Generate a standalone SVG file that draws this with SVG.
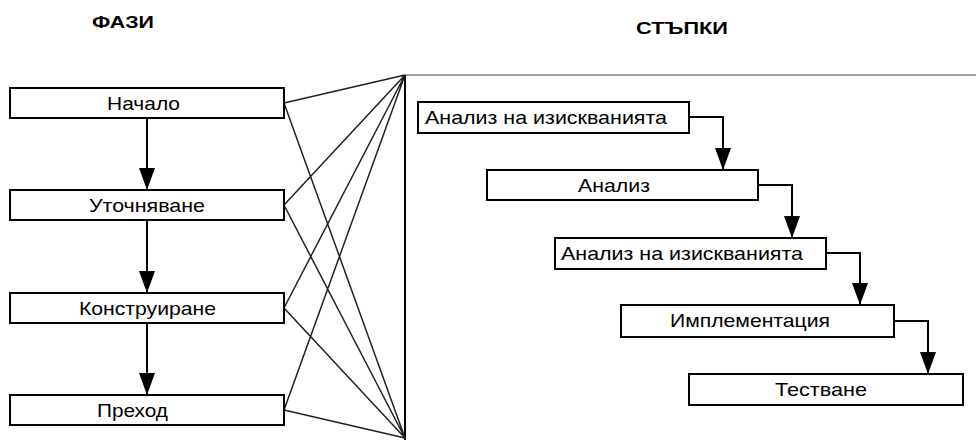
<svg xmlns="http://www.w3.org/2000/svg" width="976" height="440" viewBox="0 0 976 440">
<style>
.box{fill:#fff;stroke:#000;stroke-width:2}
.lbl{font-family:"Liberation Sans",Arial,sans-serif;font-size:19px;fill:#000}
.hdr{font-family:"Liberation Sans",Arial,sans-serif;font-size:17px;font-weight:bold;fill:#000}
.arr{fill:none;stroke:#000;stroke-width:2;marker-end:url(#ah)}
.fan{fill:none;stroke:#222;stroke-width:1.5}
</style>
<defs>
<marker id="ah" viewBox="0 0 22 16" refX="22" refY="8" markerWidth="22" markerHeight="16" markerUnits="userSpaceOnUse" orient="auto">
<path d="M0,0 L22,8 L0,16 z" fill="#000"/>
</marker>
</defs>
<rect width="976" height="440" fill="#fff"/>
<text class="hdr" x="92" y="28" textLength="62" lengthAdjust="spacingAndGlyphs">ФАЗИ</text>
<text class="hdr" x="636" y="34" textLength="92" lengthAdjust="spacingAndGlyphs">СТЪПКИ</text>
<g id="connectors">
<line x1="405" y1="75" x2="976" y2="75" stroke="#aaa0aa" stroke-width="2"/>
<line x1="405" y1="75" x2="405" y2="440" stroke="#000" stroke-width="2"/>
<path class="fan" d="M284,103 L405,75 M284,103 L405,438 M284,205 L405,75 M284,205 L405,438 M284,308 L405,75 M284,308 L405,438 M284,410 L405,75 M284,410 L405,438"/>
<path class="arr" d="M147,118 L147,190"/>
<path class="arr" d="M147,220 L147,293"/>
<path class="arr" d="M147,323 L147,395"/>
<path class="arr" d="M689,117 L723,117 L723,170"/>
<path class="arr" d="M758,185 L792,185 L792,238"/>
<path class="arr" d="M826,253 L860,253 L860,305"/>
<path class="arr" d="M894,321 L928,321 L928,374"/>
</g>
<g id="n-nachalo"><rect class="box" x="10" y="88" width="274" height="30"/><text class="lbl" x="107" y="110" textLength="73" lengthAdjust="spacingAndGlyphs">Начало</text></g>
<g id="n-utochnyavane"><rect class="box" x="10" y="190" width="274" height="30"/><text class="lbl" x="89" y="212" textLength="116" lengthAdjust="spacingAndGlyphs">Уточняване</text></g>
<g id="n-konstruirane"><rect class="box" x="10" y="293" width="274" height="30"/><text class="lbl" x="79" y="315" textLength="137" lengthAdjust="spacingAndGlyphs">Конструиране</text></g>
<g id="n-prehod"><rect class="box" x="10" y="395" width="274" height="30"/><text class="lbl" x="97" y="417" textLength="71" lengthAdjust="spacingAndGlyphs">Преход</text></g>
<g id="s-analiz-iz1"><rect class="box" x="418" y="102" width="271" height="31"/><text class="lbl" x="425" y="124" textLength="242" lengthAdjust="spacingAndGlyphs">Анализ на изискванията</text></g>
<g id="s-analiz"><rect class="box" x="487" y="170" width="271" height="30"/><text class="lbl" x="578" y="192" textLength="72" lengthAdjust="spacingAndGlyphs">Анализ</text></g>
<g id="s-analiz-iz2"><rect class="box" x="555" y="238" width="271" height="31"/><text class="lbl" x="561" y="260" textLength="242" lengthAdjust="spacingAndGlyphs">Анализ на изискванията</text></g>
<g id="s-implementaciya"><rect class="box" x="621" y="305" width="273" height="32"/><text class="lbl" x="670" y="327" textLength="160" lengthAdjust="spacingAndGlyphs">Имплементация</text></g>
<g id="s-testvane"><rect class="box" x="689" y="374" width="274" height="31"/><text class="lbl" x="775" y="396" textLength="92" lengthAdjust="spacingAndGlyphs">Тестване</text></g>
</svg>
